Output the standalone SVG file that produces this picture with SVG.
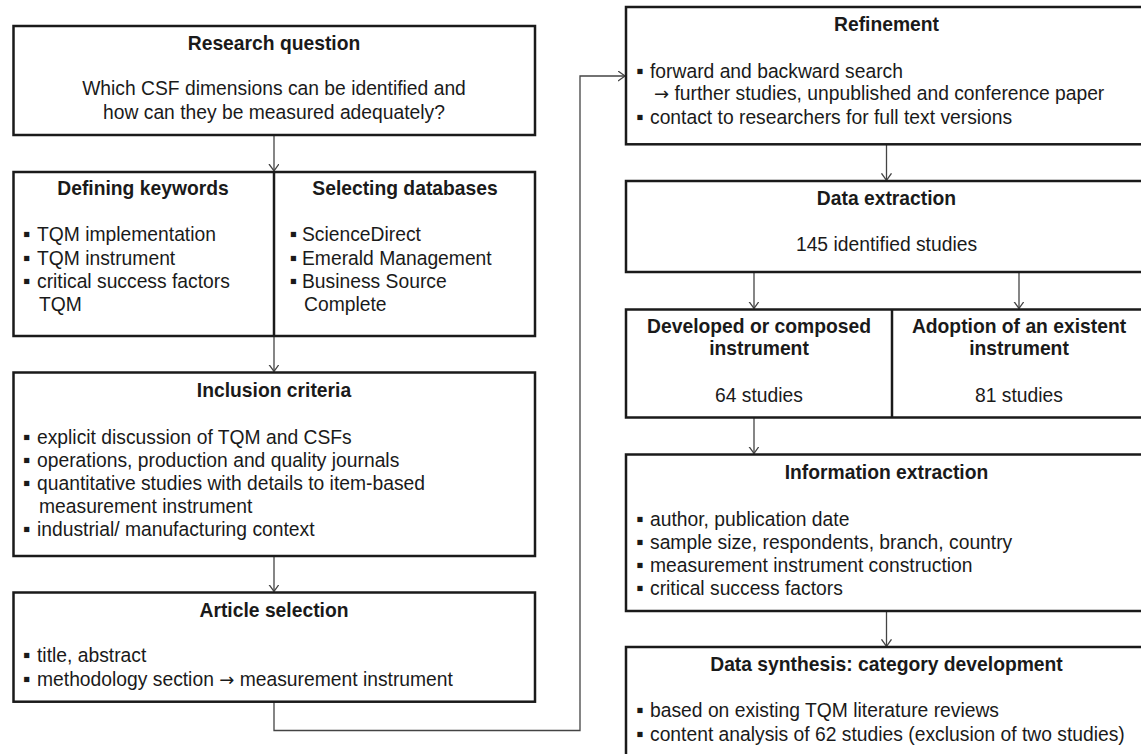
<svg xmlns="http://www.w3.org/2000/svg" width="1141" height="754" viewBox="0 0 1141 754">
<style>
  .box { fill: #ffffff; stroke: #1a1a1a; stroke-width: 2.5; }
  .div { stroke: #1a1a1a; stroke-width: 2.5; }
  .con { fill: none; stroke: #444444; stroke-width: 1.3; }
  text { font-family: "Liberation Sans", Arial, sans-serif; font-size: 19.3px; fill: #1a1a1a; }
  .h { font-weight: bold; text-anchor: middle; }
  .c { text-anchor: middle; }
  .bl { text-anchor: middle; font-size: 21px; }
  .ar { font-family: "DejaVu Sans", sans-serif; font-size: 18px; }
</style>
<defs>
  <marker id="arr" markerUnits="userSpaceOnUse" markerWidth="12" markerHeight="12" refX="7" refY="5" orient="auto">
    <path d="M0,0 L7,5 L0,10" fill="none" stroke="#444444" stroke-width="1.3"/>
  </marker>
</defs>
<rect width="1141" height="754" fill="#ffffff"/>

<g id="connectors">
  <line class="con" x1="274" y1="135" x2="274" y2="171" marker-end="url(#arr)"/>
  <line class="con" x1="274" y1="336" x2="274" y2="371.5" marker-end="url(#arr)"/>
  <line class="con" x1="274" y1="556" x2="274" y2="591.5" marker-end="url(#arr)"/>
  <polyline class="con" points="274,701.7 274,730.5 580,730.5 580,76 625,76" marker-end="url(#arr)"/>
  <line class="con" x1="886.5" y1="144.3" x2="886.5" y2="180.3" marker-end="url(#arr)"/>
  <line class="con" x1="754" y1="272" x2="754" y2="308.5" marker-end="url(#arr)"/>
  <line class="con" x1="1019" y1="272" x2="1019" y2="308.5" marker-end="url(#arr)"/>
  <line class="con" x1="754" y1="417.5" x2="754" y2="453.5" marker-end="url(#arr)"/>
  <line class="con" x1="886.5" y1="611" x2="886.5" y2="646.3" marker-end="url(#arr)"/>
</g>

<g id="research-question">
  <rect class="box" x="13.5" y="26" width="521.5" height="109"/>
  <text class="h" x="274" y="49.5">Research question</text>
  <text class="c" x="274" y="95">Which CSF dimensions can be identified and</text>
  <text class="c" x="274" y="118.5">how can they be measured adequately?</text>
</g>

<g id="keywords-databases">
  <rect class="box" x="13.5" y="172" width="521.5" height="164"/>
  <line class="div" x1="274" y1="172" x2="274" y2="336"/>
  <text class="h" x="143" y="195">Defining keywords</text>
  <text class="bl" x="26.7" y="241">▪</text><text x="37" y="241">TQM implementation</text>
  <text class="bl" x="26.7" y="264.5">▪</text><text x="37" y="264.5">TQM instrument</text>
  <text class="bl" x="26.7" y="288">▪</text><text x="37" y="288">critical success factors</text>
  <text x="39" y="311">TQM</text>
  <text class="h" x="405" y="195">Selecting databases</text>
  <text class="bl" x="293.5" y="241">▪</text><text x="302" y="241">ScienceDirect</text>
  <text class="bl" x="293.5" y="264.5">▪</text><text x="302" y="264.5">Emerald Management</text>
  <text class="bl" x="293.5" y="288">▪</text><text x="302" y="288">Business Source</text>
  <text x="304" y="311">Complete</text>
</g>

<g id="inclusion-criteria">
  <rect class="box" x="13.5" y="372.5" width="521.5" height="183.5"/>
  <text class="h" x="274" y="397">Inclusion criteria</text>
  <text class="bl" x="26.7" y="443.5">▪</text><text x="37" y="443.5">explicit discussion of TQM and CSFs</text>
  <text class="bl" x="26.7" y="467">▪</text><text x="37" y="467">operations, production and quality journals</text>
  <text class="bl" x="26.7" y="490">▪</text><text x="37" y="490">quantitative studies with details to item-based</text>
  <text x="39" y="512.5">measurement instrument</text>
  <text class="bl" x="26.7" y="535.5">▪</text><text x="37" y="535.5">industrial/ manufacturing context</text>
</g>

<g id="article-selection">
  <rect class="box" x="13.5" y="592.5" width="521.5" height="109.2"/>
  <text class="h" x="274" y="617">Article selection</text>
  <text class="bl" x="26.7" y="662">▪</text><text x="37" y="662">title, abstract</text>
  <text class="bl" x="26.7" y="686">▪</text><text x="37" y="686">methodology section <tspan class="ar">→</tspan> measurement instrument</text>
</g>

<g id="refinement">
  <rect class="box" x="626" y="7" width="522" height="137.3"/>
  <text class="h" x="886.5" y="31">Refinement</text>
  <text class="bl" x="640" y="77.5">▪</text><text x="650" y="77.5">forward and backward search</text>
  <text x="654" y="100"><tspan class="ar">→</tspan> further studies, unpublished and conference paper</text>
  <text class="bl" x="640" y="123.5">▪</text><text x="650" y="123.5">contact to researchers for full text versions</text>
</g>

<g id="data-extraction">
  <rect class="box" x="626" y="181" width="522" height="91"/>
  <text class="h" x="886.5" y="205">Data extraction</text>
  <text class="c" x="886.5" y="251">145 identified studies</text>
</g>

<g id="instrument-split">
  <rect class="box" x="626" y="309.5" width="522" height="108"/>
  <line class="div" x1="892" y1="309.5" x2="892" y2="417.5"/>
  <text class="h" x="759" y="332.5">Developed or composed</text>
  <text class="h" x="759" y="355">instrument</text>
  <text class="c" x="759" y="402">64 studies</text>
  <text class="h" x="1019" y="332.5">Adoption of an existent</text>
  <text class="h" x="1019" y="355">instrument</text>
  <text class="c" x="1019" y="402">81 studies</text>
</g>

<g id="information-extraction">
  <rect class="box" x="626" y="454.5" width="522" height="156.5"/>
  <text class="h" x="886.5" y="478.5">Information extraction</text>
  <text class="bl" x="640" y="526">▪</text><text x="650" y="526">author, publication date</text>
  <text class="bl" x="640" y="549">▪</text><text x="650" y="549">sample size, respondents, branch, country</text>
  <text class="bl" x="640" y="572">▪</text><text x="650" y="572">measurement instrument construction</text>
  <text class="bl" x="640" y="595">▪</text><text x="650" y="595">critical success factors</text>
</g>

<g id="data-synthesis">
  <rect class="box" x="626" y="647" width="522" height="120"/>
  <text class="h" x="886.5" y="671">Data synthesis: category development</text>
  <text class="bl" x="640" y="717">▪</text><text x="650" y="717">based on existing TQM literature reviews</text>
  <text class="bl" x="640" y="741">▪</text><text x="650" y="741">content analysis of 62 studies (exclusion of two studies)</text>
</g>
</svg>
